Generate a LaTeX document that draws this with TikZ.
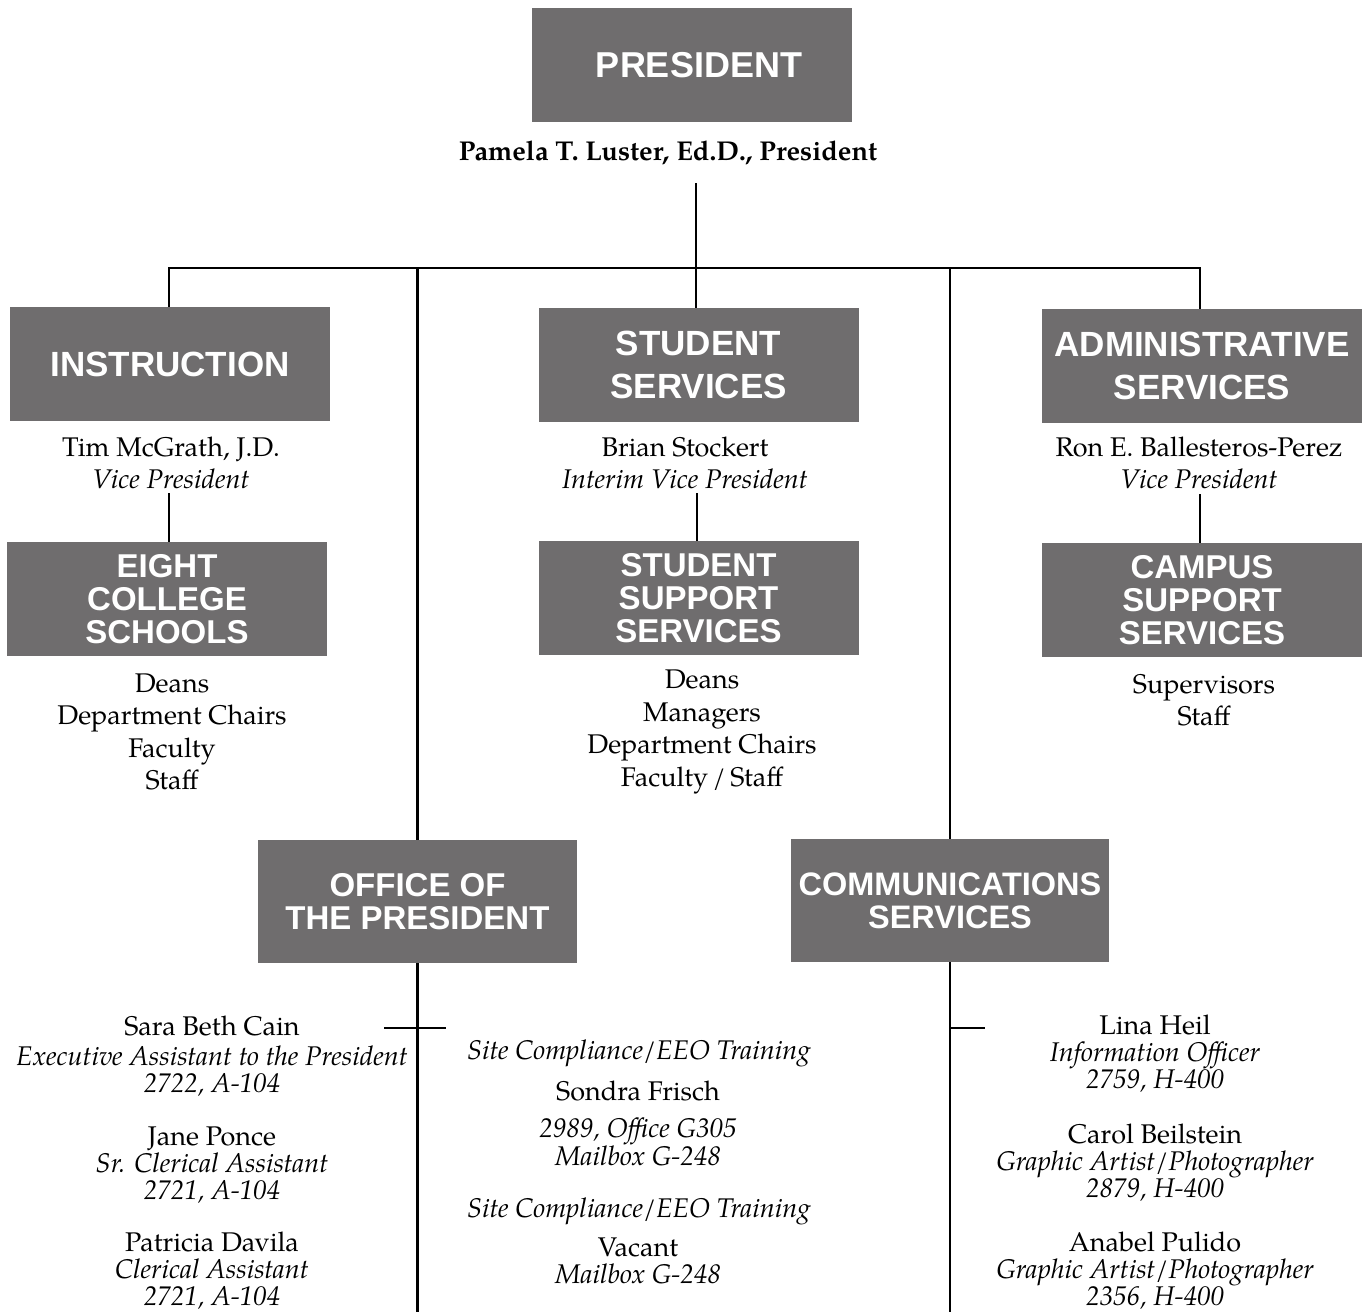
\documentclass[tikz,border=0pt]{standalone}
\usepackage{fontspec}
\setmainfont{texgyrepagella-regular.otf}[ItalicFont=texgyrepagella-italic.otf, BoldFont=texgyrepagella-bold.otf, BoldItalicFont=texgyrepagella-bolditalic.otf]
\newfontfamily\boxfont{Liberation Sans}
\definecolor{boxgray}{RGB}{111,109,110}
\tikzset{
  orgbox/.style={fill=boxgray, text=white, minimum width=320pt, minimum height=114pt, inner sep=0pt, align=center, font=\boxfont\bfseries\fontsize{35}{43}\selectfont},
  smallbox/.style={orgbox, font=\boxfont\bfseries\fontsize{33}{33}\selectfont},
  link/.style={line width=2.5pt, draw=black},
  bodytext/.style={inner sep=0pt, align=center, font=\fontsize{27}{32.5}\selectfont},
  persontext/.style={inner sep=0pt, align=center, font=\fontsize{27}{27}\selectfont}
}
\newcommand{\nm}[1]{{\fontsize{27}{27}\selectfont #1}}
\begin{document}
\begin{tikzpicture}[x=1pt,y=-1pt]
\useasboundingbox (0,0) rectangle (1367,1312);
% boxes
\node[orgbox, font=\boxfont\bfseries\fontsize{36}{43}\selectfont] (pres) at (692,65) {\hspace*{14pt}PRESIDENT};
\node[orgbox] (inst) at (170,364) {INSTRUCTION};
\node[orgbox] (stud) at (698.5,365) {STUDENT\\SERVICES};
\node[orgbox] (admin) at (1202,366) {ADMINISTRATIVE\\SERVICES};
\node[smallbox] (eight) at (167,599) {EIGHT\\COLLEGE\\SCHOOLS};
\node[smallbox] (ssup) at (698.5,598) {STUDENT\\SUPPORT\\SERVICES};
\node[smallbox] (campus) at (1202,600) {CAMPUS\\SUPPORT\\SERVICES};
\node[smallbox, minimum height=123pt, minimum width=319pt] (office) at (417.5,901.5) {OFFICE OF\\THE PRESIDENT};
\node[smallbox, minimum height=123pt, minimum width=318pt, font=\boxfont\bfseries\fontsize{32.5}{33}\selectfont] (comm) at (950,900.5) {COMMUNICATIONS\\SERVICES};
% texts
\node[bodytext] (presname) at (668,153) {\bfseries\fontsize{27.2}{28}\selectfont Pamela T. Luster, Ed.D., President};
\node[bodytext] (tim) at (171,463) {Tim McGrath, J.D.\\\textit{Vice President}};
\node[bodytext] (brian) at (685,463) {Brian Stockert\\\textit{Interim Vice President}};
\node[bodytext] (ron) at (1199,463) {Ron E. Ballesteros-Perez\\\textit{Vice President}};
\node[bodytext] (instlist) at (172,732) {Deans\\Department Chairs\\Faculty\\Staff};
\node[bodytext] (studlist) at (702,732) {Deans\\Managers\\Department Chairs\\Faculty\,/\,Staff};
\node[bodytext] (camplist) at (1204,700) {Supervisors\\Staff};
\node[persontext] (sara) at (212,1056) {\nm{Sara Beth Cain}\\[3pt]\textit{Executive Assistant to the President}\\\textit{2722, A-104}};
\node[persontext] (jane) at (212,1165) {\nm{Jane Ponce}\\\textit{Sr. Clerical Assistant}\\\textit{2721, A-104}};
\node[persontext] (patricia) at (212,1271) {\nm{Patricia Davila}\\\textit{Clerical Assistant}\\\textit{2721, A-104}};
\node[persontext] (site1) at (639,1053) {\textit{Site Compliance/EEO Training}};
\node[persontext] (sondra) at (638,1091) {\nm{Sondra Frisch}};
\node[persontext] (sondraoff) at (638,1141.5) {\textit{2989, Office G305}\\\textit{Mailbox G-248}};
\node[persontext] (site2) at (639,1211) {\textit{Site Compliance/EEO Training}};
\node[persontext] (vacant) at (638,1260.5) {\nm{Vacant}\\\textit{Mailbox G-248}};
\node[persontext] (lina) at (1155,1054) {\nm{Lina Heil}\\\textit{Information Officer}\\\textit{2759, H-400}};
\node[persontext] (carol) at (1155,1163) {\nm{Carol Beilstein}\\\textit{Graphic Artist/Photographer}\\\textit{2879, H-400}};
\node[persontext] (anabel) at (1155,1271) {\nm{Anabel Pulido}\\\textit{Graphic Artist/Photographer}\\\textit{2356, H-400}};
% coordinates
\coordinate (top) at (696,183);
\coordinate (busL) at (169,268);
\coordinate (busR) at (1200,268);
\coordinate (c1) at (169,493);
\coordinate (c2) at (697,493);
\coordinate (c3) at (1200,494);
\coordinate (bottom) at (0,1312);
\coordinate (crossL) at (384,1028);
\coordinate (crossR) at (446,1028);
\coordinate (tick) at (985,1028);
% connectors
\draw[link] (top) -- (top |- stud.north);
\draw[link] (inst.north -| busL) -- (busL) -- (busR) -- (admin.north -| busR);
\draw[link] (office.north) -- (office.north |- busL);
\draw[link] (comm.north) -- (comm.north |- busL);
\draw[link] (c1) -- (eight.north -| c1);
\draw[link] (c2) -- (ssup.north -| c2);
\draw[link] (c3) -- (campus.north -| c3);
\draw[link] (office.south) -- (office.south |- bottom);
\draw[link] (crossL) -- (crossR);
\draw[link] (comm.south) -- (comm.south |- bottom);
\draw[link] (comm.south |- tick) -- (tick);
\end{tikzpicture}
\end{document}
